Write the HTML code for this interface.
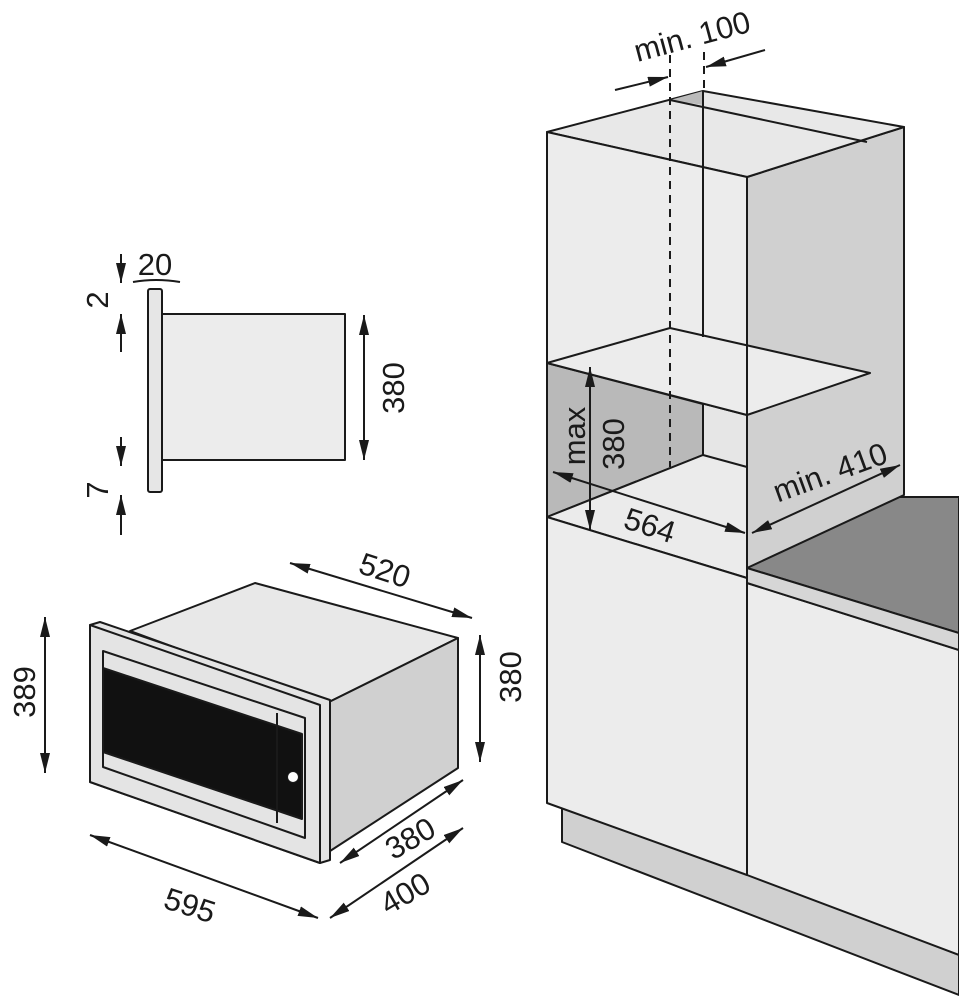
<!DOCTYPE html>
<html><head><meta charset="utf-8"><style>
html,body{margin:0;padding:0;background:#fff;width:959px;height:1000px;overflow:hidden}
svg{display:block}
text{font-family:"Liberation Sans",sans-serif;fill:#1a1a1a;font-size:31px}
</style></head><body>
<svg width="959" height="1000" viewBox="0 0 959 1000" xmlns="http://www.w3.org/2000/svg">
<defs>
<marker id="a" viewBox="0 0 20 10" refX="20" refY="5" markerWidth="20" markerHeight="10" markerUnits="userSpaceOnUse" orient="auto-start-reverse">
<path d="M0,0 L20,5 L0,10 z" fill="#1a1a1a"/></marker>
</defs>
<g stroke="#1a1a1a" stroke-width="2" stroke-linejoin="round">
<polygon points="562,800 562,842 959,995 959,955" fill="#d0d0d0"/>
<polygon points="747,583 959,650 959,955 747,875" fill="#ececec"/>
<polygon points="747,568 893,497 959,497 959,633" fill="#888"/>
<polygon points="747,568 959,633 959,650 747,583" fill="#d6d6d6"/>
<polygon points="747,177 904,127 904,495 747,568" fill="#d0d0d0"/>
<polygon points="547,132 703,91 904,127 747,177" fill="#e8e8e8"/>
<polygon points="670,100 703,91 703,105" fill="#bbb" stroke="none"/>
<line x1="670" y1="100" x2="867" y2="142"/>
<polygon points="547,132 747,177 747,415 547,363" fill="#ececec"/>
<polygon points="547,363 747,415 747,578 547,517" fill="#e6e6e6"/>
<polygon points="547,363 703,404 703,455 547,517" fill="#b9b9b9"/>
<polygon points="547,517 703,455 747,467 747,578" fill="#ebebeb"/>
<polygon points="547,517 747,578 747,875 547,803" fill="#ececec"/>
<polygon points="547,363 670,328 870,373 747,415" fill="#ececec"/>
<line x1="703" y1="91" x2="703" y2="337"/>
<line x1="747" y1="177" x2="747" y2="875"/>
<line x1="670" y1="55" x2="670" y2="467" stroke-dasharray="8,6"/>
<line x1="704" y1="52" x2="704" y2="92" stroke-dasharray="8,6"/>
<line x1="615" y1="90" x2="668" y2="77" marker-end="url(#a)"/>
<line x1="765" y1="50" x2="706" y2="67" marker-end="url(#a)"/>
<line x1="590" y1="367" x2="590" y2="530" marker-start="url(#a)" marker-end="url(#a)"/>
<line x1="553" y1="472" x2="745" y2="533" marker-start="url(#a)" marker-end="url(#a)"/>
<line x1="752" y1="533" x2="900" y2="465" marker-start="url(#a)" marker-end="url(#a)"/>

<rect x="148" y="289" width="14" height="203" rx="2" fill="#e6e6e6"/>
<rect x="162" y="314" width="183" height="146" fill="#ececec"/>
<line x1="364" y1="315" x2="364" y2="460" marker-start="url(#a)" marker-end="url(#a)"/>
<path d="M133,282 Q156,278 180,282" fill="none"/>
<line x1="121" y1="254" x2="121" y2="283" marker-end="url(#a)"/>
<line x1="121" y1="352" x2="121" y2="314" marker-end="url(#a)"/>
<line x1="121" y1="437" x2="121" y2="466" marker-end="url(#a)"/>
<line x1="121" y1="535" x2="121" y2="495" marker-end="url(#a)"/>

<polygon points="255,583 458,638 327,703 130,631" fill="#e8e8e8"/>
<polygon points="327,703 458,638 458,768 327,853" fill="#d0d0d0"/>
<polygon points="90,625 100,622 330,700 330,860 320,863 90,782" fill="#e4e4e4"/>
<polygon points="90,625 320,705 320,863 90,782" fill="#e4e4e4"/>
<polygon points="103,651 305,718 305,838 103,767" fill="#e4e4e4"/>
<polygon points="103,668 302,734 302,819 103,752" fill="#111"/>
<line x1="277" y1="713" x2="277" y2="823"/>
<circle cx="293" cy="777" r="5.5" fill="#fff" stroke-width="1"/>
<line x1="45" y1="617" x2="45" y2="773" marker-start="url(#a)" marker-end="url(#a)"/>
<line x1="480" y1="635" x2="480" y2="762" marker-start="url(#a)" marker-end="url(#a)"/>
<line x1="290" y1="563" x2="472" y2="618" marker-start="url(#a)" marker-end="url(#a)"/>
<line x1="90" y1="835" x2="318" y2="918" marker-start="url(#a)" marker-end="url(#a)"/>
<line x1="340" y1="863" x2="463" y2="780" marker-start="url(#a)" marker-end="url(#a)"/>
<line x1="330" y1="918" x2="463" y2="828" marker-start="url(#a)" marker-end="url(#a)"/>
</g>

<text x="692" y="47" text-anchor="middle" transform="rotate(-15 692 36)">min. 100</text>
<text x="0" y="0" text-anchor="middle" transform="translate(585,436) rotate(-90)">max</text>
<text x="0" y="0" text-anchor="middle" transform="translate(624,444) rotate(-90)">380</text>
<text x="650" y="536" text-anchor="middle" transform="rotate(18 650 525)">564</text>
<text x="830" y="483" text-anchor="middle" transform="rotate(-20 830 472)">min. 410</text>
<text x="155" y="275" text-anchor="middle">20</text>
<text x="0" y="0" text-anchor="middle" transform="translate(404,388) rotate(-90)">380</text>
<text x="0" y="0" text-anchor="middle" transform="translate(108,300) rotate(-90)">2</text>
<text x="0" y="0" text-anchor="middle" transform="translate(108,490) rotate(-90)">7</text>
<text x="0" y="0" text-anchor="middle" transform="translate(35,692) rotate(-90)">389</text>
<text x="0" y="0" text-anchor="middle" transform="translate(521,677) rotate(-90)">380</text>
<text x="385" y="581" text-anchor="middle" transform="rotate(18 385 570)">520</text>
<text x="190" y="916" text-anchor="middle" transform="rotate(18 190 905)">595</text>
<text x="410" y="849" text-anchor="middle" transform="rotate(-30 410 838)">380</text>
<text x="405" y="904" text-anchor="middle" transform="rotate(-30 405 893)">400</text>
</svg>
</body></html>
